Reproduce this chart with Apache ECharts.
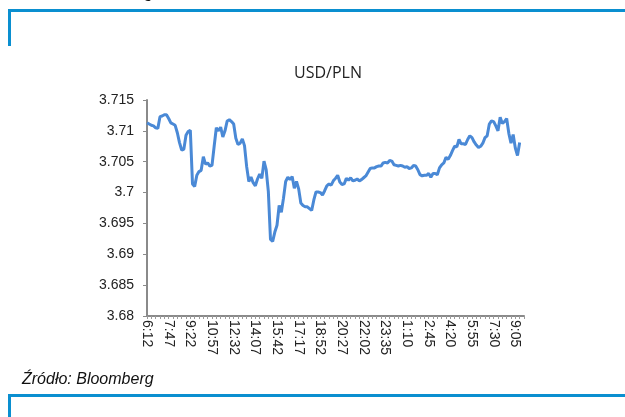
<!DOCTYPE html>
<html>
<head>
<meta charset="utf-8">
<script src="https://cdn.jsdelivr.net/npm/echarts@6/dist/echarts.min.js"></script>
<style>
  html, body { margin: 0; padding: 0; background: #fff; }
  #usd_pln_chart { width: 625px; height: 417px; }
</style>
</head>
<body>
<div id="usd_pln_chart"></div>
<script>
// etykiety osi X (co 10 punktów)
const tickLabels = ['6:12', '7:47', '9:22', '10:57', '12:32', '14:07', '15:42', '17:17', '18:52',
  '20:27', '22:02', '23:35', '1:10', '2:45', '4:20', '5:55', '7:30', '9:05']
const pointsPerLabel = 10
const totalCategories = 175

// kurs USD/PLN
const usdPln = [
  3.7113, 3.7111, 3.7109, 3.7108, 3.7105, 3.7104, 3.7123, 3.7124, 3.7126, 3.7126,
  3.7120, 3.7113, 3.7111, 3.7109, 3.7097, 3.7081, 3.7069, 3.7070, 3.7093, 3.7099,
  3.7101, 3.7014, 3.7010, 3.7028, 3.7034, 3.7036, 3.7058, 3.7046, 3.7048, 3.7043,
  3.7044, 3.7075, 3.7105, 3.7100, 3.7106, 3.7090, 3.7100, 3.7116, 3.7118, 3.7115,
  3.7111, 3.7088, 3.7078, 3.7080, 3.7087, 3.7076, 3.7042, 3.7018, 3.7025, 3.7016,
  3.7011, 3.7022, 3.7030, 3.7023, 3.7051, 3.7037, 3.7002, 3.6924, 3.6921, 3.6936,
  3.6947, 3.6979, 3.6968, 3.6991, 3.7018, 3.7025, 3.7021, 3.7026, 3.7007, 3.7018,
  3.7006, 3.6983, 3.6979, 3.6977, 3.6977, 3.6974, 3.6971, 3.6988, 3.7001, 3.7001,
  3.7000, 3.6996, 3.7003, 3.7011, 3.7014, 3.7012, 3.7019, 3.7023, 3.7028, 3.7017,
  3.7013, 3.7014, 3.7023, 3.7020, 3.7024, 3.7019, 3.7020, 3.7022, 3.7019, 3.7021,
  3.7024, 3.7027, 3.7033, 3.7039, 3.7040, 3.7040, 3.7042, 3.7043, 3.7043, 3.7048,
  3.7049, 3.7048, 3.7052, 3.7051, 3.7045, 3.7044, 3.7043, 3.7044, 3.7043, 3.7041,
  3.7042, 3.7039, 3.7040, 3.7044, 3.7043, 3.7037, 3.7029, 3.7027, 3.7028, 3.7028,
  3.7031, 3.7025, 3.7031, 3.7031, 3.7029, 3.7040, 3.7045, 3.7048, 3.7057, 3.7054,
  3.7060, 3.7068, 3.7075, 3.7074, 3.7086, 3.7079, 3.7079, 3.7078, 3.7086, 3.7092,
  3.7089, 3.7082, 3.7077, 3.7073, 3.7075, 3.7080, 3.7089, 3.7092, 3.7111, 3.7116,
  3.7115, 3.7108, 3.7100, 3.7122, 3.7112, 3.7115, 3.7120, 3.7096, 3.7080, 3.7094,
  3.7072, 3.7060, 3.7081
]

const yMin = 3.68
const yMax = 3.715
const yStep = 0.005

const categories = []
for (let i = 0; i < totalCategories; i++) {
  const k = i / pointsPerLabel
  categories.push(i % pointsPerLabel === 0 && tickLabels[k] ? tickLabels[k] : '')
}

const chart = echarts.init(document.getElementById('usd_pln_chart'))
const frameColor = '#0a8fd0'

chart.setOption({
  animation: false,
  title: {
    text: 'USD/PLN',
    left: 323,
    top: 60,
    textAlign: 'center',
    textStyle: {
      fontFamily: 'Open Sans',
      fontSize: 16,
      fontWeight: 'normal',
      color: '#222'
    }
  },
  grid: {
    left: 147,
    right: 101,
    top: 100,
    bottom: 101,
    containLabel: false
  },
  xAxis: {
    type: 'category',
    boundaryGap: false,
    data: categories,
    axisLine: {
      lineStyle: { color: '#8a8a8a', width: 2 }
    },
    axisTick: {
      show: true,
      interval: 1,
      length: 3,
      lineStyle: { color: '#9a9a9a', width: 1 }
    },
    axisLabel: {
      interval: pointsPerLabel - 1,
      rotate: -90,
      margin: 4,
      fontFamily: 'Liberation Sans',
      fontSize: 14,
      color: '#222'
    },
    splitLine: { show: false }
  },
  yAxis: {
    type: 'value',
    min: yMin,
    max: yMax,
    interval: yStep,
    axisLine: {
      show: true,
      lineStyle: { color: '#8a8a8a', width: 2 }
    },
    axisTick: {
      show: true,
      length: 4,
      lineStyle: { color: '#8a8a8a', width: 1 }
    },
    axisLabel: {
      margin: 13,
      fontFamily: 'Liberation Sans',
      fontSize: 14,
      color: '#222',
      formatter: function (value) {
        return String(+value.toFixed(3))
      }
    },
    splitLine: { show: false }
  },
  series: [
    {
      name: 'USD/PLN',
      type: 'line',
      data: usdPln,
      showSymbol: false,
      smooth: false,
      lineStyle: { color: '#4a89d6', width: 3 }
    }
  ],
  graphic: [
    // ramka górna
    { type: 'rect', shape: { x: 8, y: 9, width: 617, height: 3 }, style: { fill: frameColor } },
    { type: 'rect', shape: { x: 8, y: 9, width: 3, height: 37 }, style: { fill: frameColor } },
    // ramka dolna
    { type: 'rect', shape: { x: 8, y: 394, width: 617, height: 3 }, style: { fill: frameColor } },
    { type: 'rect', shape: { x: 8, y: 394, width: 3, height: 23 }, style: { fill: frameColor } },
    {
      type: 'text',
      left: 22,
      top: -14,
      style: {
        text: 'Źródło: Bloomberg',
        font: 'italic 16px "Liberation Sans"',
        fill: '#111'
      }
    },
    {
      type: 'text',
      left: 22,
      top: 372,
      style: {
        text: 'Źródło: Bloomberg',
        font: 'italic 16px "Liberation Sans"',
        fill: '#111'
      }
    }
  ]
})
</script>
</body>
</html>
